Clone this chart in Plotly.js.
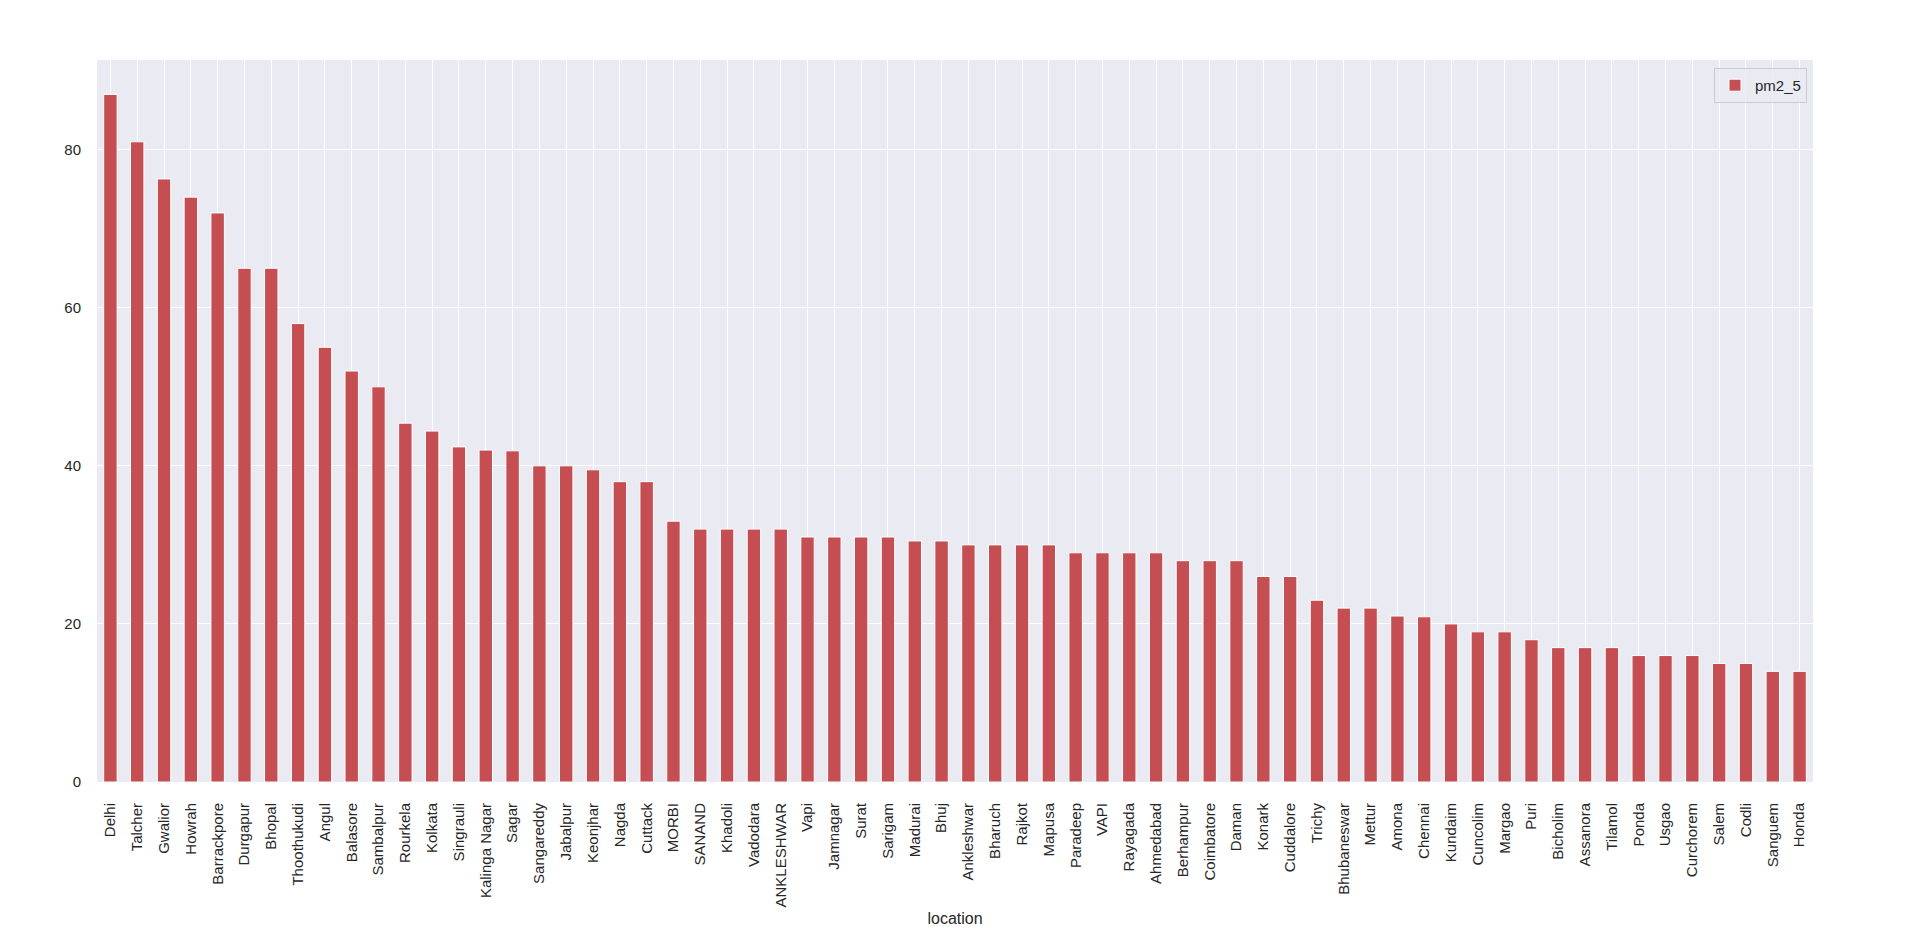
<!DOCTYPE html>
<html>
<head>
<meta charset="utf-8">
<script src="https://cdn.plot.ly/plotly-3.0.1.min.js"></script>
<style>
  html, body { margin: 0; padding: 0; background: #fff; }
  #chart { width: 1920px; height: 927px; }
</style>
</head>
<body>
<div id="chart"></div>
<script>
// PM2.5 by monitoring location, sorted high to low
const locations = [
  "Delhi", "Talcher", "Gwalior", "Howrah", "Barrackpore", "Durgapur", "Bhopal",
  "Thoothukudi", "Angul", "Balasore", "Sambalpur", "Rourkela", "Kolkata",
  "Singrauli", "Kalinga Nagar", "Sagar", "Sangareddy", "Jabalpur", "Keonjhar",
  "Nagda", "Cuttack", "MORBI", "SANAND", "Khadoli", "Vadodara", "ANKLESHWAR",
  "Vapi", "Jamnagar", "Surat", "Sarigam", "Madurai", "Bhuj", "Ankleshwar",
  "Bharuch", "Rajkot", "Mapusa", "Paradeep", "VAPI", "Rayagada", "Ahmedabad",
  "Berhampur", "Coimbatore", "Daman", "Konark", "Cuddalore", "Trichy",
  "Bhubaneswar", "Mettur", "Amona", "Chennai", "Kundaim", "Cuncolim", "Margao",
  "Puri", "Bicholim", "Assanora", "Tilamol", "Ponda", "Usgao", "Curchorem",
  "Salem", "Codli", "Sanguem", "Honda"
];

const pm25 = [
  87, 81, 76.3, 74, 72, 65, 65,
  58, 55, 52, 50, 45.4, 44.4,
  42.4, 42, 41.9, 40, 40, 39.5,
  38, 38, 33, 32, 32, 32, 32,
  31, 31, 31, 31, 30.5, 30.5, 30,
  30, 30, 30, 29, 29, 29, 29,
  28, 28, 28, 26, 26, 23,
  22, 22, 21, 20.9, 20, 19, 19,
  18, 17, 17, 17, 16, 16, 16,
  15, 15, 14, 14
];

const yTicks = [0, 20, 40, 60, 80];

const BAR = "#C44E52";
const PANEL = "#EAEAF2";
const INK = "#262626";
const FONT = "'Liberation Sans', Arial, sans-serif";

const yMax = Math.max(...pm25) * 1.05;

const traces = [{
  type: "bar",
  x: locations,
  y: pm25,
  name: "pm2_5",
  width: 0.5,
  marker: { color: BAR, line: { color: "#FFFFFF", width: 1 } },
  hoverinfo: "x+y",
}];

const layout = {
  width: 1920,
  height: 927,
  paper_bgcolor: "#FFFFFF",
  plot_bgcolor: PANEL,
  font: { family: FONT, size: 15, color: INK },
  margin: { l: 97, r: 107, t: 60, b: 145, pad: 0 },
  showlegend: true,
  legend: {
    x: 0.9965, y: 0.989, xanchor: "right", yanchor: "top",
    bgcolor: "rgba(234,234,242,0.8)", bordercolor: "#CCCCCC", borderwidth: 1,
    font: { family: FONT, size: 15, color: INK },
  },
  xaxis: {
    type: "category",
    range: [-0.5, locations.length - 0.5],
    tickangle: -90,
    showgrid: true, gridcolor: "#FFFFFF", gridwidth: 1.4,
    ticks: "outside", ticklen: 14, tickcolor: "rgba(0,0,0,0)",
    showline: false, zeroline: false,
    tickfont: { family: FONT, size: 15, color: INK },
    title: { text: "location", font: { family: FONT, size: 16, color: INK }, standoff: 8 },
  },
  yaxis: {
    range: [0, yMax],
    tickvals: yTicks,
    ticktext: yTicks.map(String),
    showgrid: true, gridcolor: "#FFFFFF", gridwidth: 1.4,
    ticks: "outside", ticklen: 12, tickcolor: "rgba(0,0,0,0)",
    showline: false, zeroline: false,
    tickfont: { family: FONT, size: 15, color: INK },
  },
};

Plotly.newPlot("chart", traces, layout, { displayModeBar: false, responsive: false });
</script>
</body>
</html>
